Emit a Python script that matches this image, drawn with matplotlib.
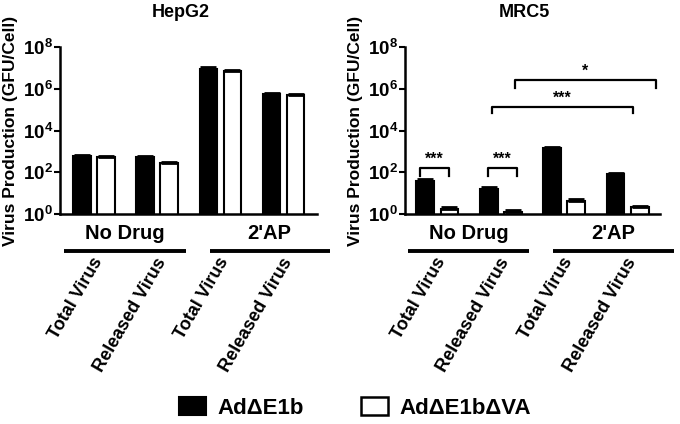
import numpy as np
import matplotlib
matplotlib.use("Agg")
import matplotlib.pyplot as plt
from matplotlib.patches import Patch

plt.rcParams['font.family'] = ['Liberation Sans', 'DejaVu Sans']
plt.rcParams['font.weight'] = 'bold'
plt.rcParams['mathtext.fontset'] = 'custom'
plt.rcParams['mathtext.rm'] = 'Liberation Sans:bold'
plt.rcParams['mathtext.bf'] = 'Liberation Sans:bold'
plt.rcParams['mathtext.default'] = 'rm'

# data (GFU/cell)
categories = ["Total Virus", "Released Virus", "Total Virus", "Released Virus"]
groups = ["No Drug", "2'AP"]
series = ["Ad\u0394E1b", "Ad\u0394E1b\u0394VA"]

hepg2_e1b = [600, 540, 8.7e6, 5.8e5]
hepg2_e1b_err = [60, 50, 2.0e6, 8e4]
hepg2_va = [540, 275, 7.0e6, 5.0e5]
hepg2_va_err = [50, 30, 1.2e6, 8e4]

mrc5_e1b = [38, 16, 1500, 80]
mrc5_e1b_err = [8, 3, 200, 12]
mrc5_va = [1.8, 1.3, 4.3, 2.1]
mrc5_va_err = [0.3, 0.2, 0.8, 0.3]

# significance brackets for MRC5: (x0, x1, top exponent, leg exponent, label)
brackets = [(-0.27, 0.18, 2.19, 1.82, "***"),
            (0.80, 1.25, 2.19, 1.82, "***"),
            (0.86, 3.09, 5.13, 4.85, "***"),
            (1.22, 3.44, 6.41, 6.03, "*")]

ticks = [1, 1e2, 1e4, 1e6, 1e8]
tick_labels = [r"$10^{0}$", r"$10^{2}$", r"$10^{4}$", r"$10^{6}$", r"$10^{8}$"]

fig = plt.figure(figsize=(6.8, 4.24), dpi=100)
ax1 = fig.add_axes([0.0882, 0.495, 0.378, 0.394])
ax2 = fig.add_axes([0.5956, 0.495, 0.375, 0.394])

x = np.arange(len(categories))
w = 0.28
off = 0.19


def draw_panel(ax, black, black_err, white, white_err, title, xlim):
    ax.bar(x - off, black, w, color="black", edgecolor="black", linewidth=1.5, zorder=2)
    ax.bar(x + off, white, w, color="white", edgecolor="black", linewidth=1.5, zorder=2)
    ax.errorbar(x - off, black, yerr=[np.zeros(4), black_err], fmt="none",
                ecolor="black", elinewidth=1.5, capsize=6, capthick=2, zorder=3)
    ax.errorbar(x + off, white, yerr=[np.zeros(4), white_err], fmt="none",
                ecolor="black", elinewidth=1.5, capsize=6, capthick=2, zorder=3)
    ax.set_yscale("log")
    ax.set_ylim(1, 1e8)
    ax.set_xlim(*xlim)
    ax.set_yticks(ticks)
    ax.set_yticklabels(tick_labels, fontsize=13.5)
    ax.minorticks_off()
    ax.set_xticks([])
    ax.tick_params(axis="y", direction="out", length=4, width=1.5, pad=1)
    for s in ["top", "right"]:
        ax.spines[s].set_visible(False)
    for s in ["left", "bottom"]:
        ax.spines[s].set_linewidth(1.8)
    ax.set_ylabel("Virus Production (GFU/Cell)", fontsize=12.5, fontweight="bold")
    ax.set_title(title, fontsize=13, fontweight="bold", pad=22, x=0.47)

    trans = ax.get_xaxis_transform()
    # group lines and group names under the axis
    spans = [(-0.47, 1.45), (1.83, 3.73)]
    for (a, b), g in zip(spans, groups):
        ax.plot([a, b], [-0.222, -0.222], color="black", lw=2.8, transform=trans,
                clip_on=False, solid_capstyle="butt")
        ax.text((a + b) / 2, -0.114, g, transform=trans, ha="center", va="center",
                fontsize=14.5, fontweight="bold")
    # rotated category labels
    for xi, lab in zip(x, categories):
        ax.text(xi - 0.04, -0.243, lab, transform=trans, rotation=60, ha="right", va="top",
                rotation_mode="anchor", fontsize=13, fontweight="bold")


draw_panel(ax1, hepg2_e1b, hepg2_e1b_err, hepg2_va, hepg2_va_err, "HepG2", (-0.54, 3.53))
draw_panel(ax2, mrc5_e1b, mrc5_e1b_err, mrc5_va, mrc5_va_err, "MRC5", (-0.51, 3.51))
ax1.yaxis.set_label_coords(-0.165, 0.5)
ax2.yaxis.set_label_coords(-0.165, 0.5)

for x0, x1, top, leg, lab in brackets:
    ax2.plot([x0, x0, x1, x1], [10 ** leg, 10 ** top, 10 ** top, 10 ** leg],
             color="black", lw=1.6, clip_on=False, zorder=4)
    ax2.text((x0 + x1) / 2, 10 ** (top + 0.08), lab, ha="center", va="bottom",
             fontsize=11.5, fontweight="bold")

handles = [Patch(facecolor="black", edgecolor="black", linewidth=1.5),
           Patch(facecolor="white", edgecolor="black", linewidth=1.8)]
fig.legend(handles, series, loc="center", bbox_to_anchor=(0.522, 0.038), ncol=2,
           frameon=False, prop={"size": 16, "weight": "bold"},
           handlelength=1.2, handleheight=0.85, handletextpad=0.5, columnspacing=2.6)

fig.savefig("out.png", dpi=100)
